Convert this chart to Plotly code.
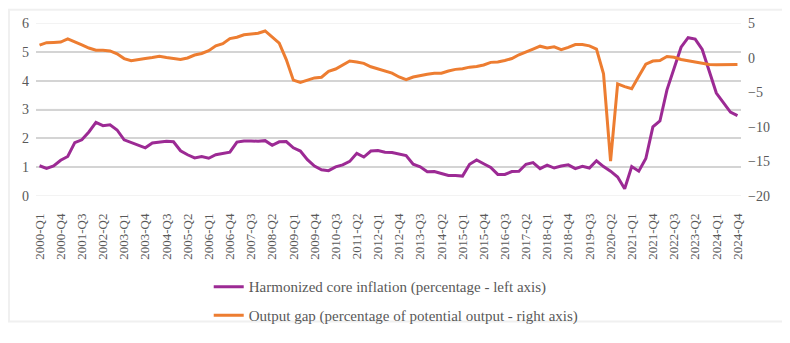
import plotly.graph_objects as go

# quarters 2000-Q1 .. 2024-Q4
quarters = [f"{y}-Q{q}" for y in range(2000, 2025) for q in range(1, 5)]
tick_labels = quarters[::3]
left_ticks = [0, 1, 2, 3, 4, 5, 6]
right_ticks = [-20, -15, -10, -5, 0, 5]

# harmonized core inflation, % (left axis)
core_inflation = [
    1.05, 0.96, 1.04, 1.24, 1.37, 1.85, 1.95, 2.22, 2.55, 2.44,
    2.47, 2.29, 1.95, 1.85, 1.75, 1.67, 1.84, 1.86, 1.90, 1.88,
    1.57, 1.43, 1.32, 1.37, 1.31, 1.43, 1.47, 1.52, 1.87, 1.91,
    1.91, 1.90, 1.92, 1.76, 1.88, 1.89, 1.67, 1.56, 1.26, 1.04,
    0.91, 0.88, 1.01, 1.08, 1.20, 1.48, 1.35, 1.56, 1.58, 1.52,
    1.51, 1.46, 1.40, 1.10, 1.01, 0.84, 0.85, 0.78, 0.71, 0.71,
    0.69, 1.10, 1.25, 1.12, 0.99, 0.75, 0.75, 0.85, 0.86, 1.10,
    1.16, 0.95, 1.07, 0.97, 1.04, 1.08, 0.95, 1.03, 0.97, 1.22,
    1.02, 0.86, 0.66, 0.25, 1.02, 0.86, 1.30, 2.40, 2.60, 3.68,
    4.45, 5.16, 5.49, 5.44, 5.08, 4.34, 3.57, 3.24, 2.91, 2.79,
]

# output gap, % of potential output (right axis)
output_gap = [
    1.80, 2.16, 2.20, 2.25, 2.70, 2.30, 1.83, 1.38, 1.06, 1.06,
    0.96, 0.55, -0.14, -0.46, -0.35, -0.14, 0.00, 0.18, 0.00, -0.14,
    -0.28, -0.05, 0.37, 0.60, 1.00, 1.70, 2.00, 2.75, 2.94, 3.30,
    3.40, 3.53, 3.85, 3.03, 2.10, -0.28, -3.26, -3.60, -3.26, -2.94,
    -2.84, -2.00, -1.65, -1.10, -0.50, -0.64, -0.83, -1.33, -1.65, -2.00,
    -2.25, -2.80, -3.20, -2.80, -2.57, -2.40, -2.25, -2.25, -1.93, -1.70,
    -1.60, -1.38, -1.28, -1.06, -0.69, -0.64, -0.41, -0.14, 0.41, 0.87,
    1.24, 1.65, 1.38, 1.56, 1.15, 1.47, 1.88, 1.88, 1.70, 1.24,
    -2.34, -14.95, -3.80, -4.20, -4.50, -2.70, -0.96, -0.50, -0.43, 0.15,
    0.05, -0.28, -0.48, -0.70, -0.90, -1.00, -1.05, -1.05, -1.05, -0.98,
]

serif = "Liberation Serif, Times New Roman, serif"
grey = "#595959"

fig = go.Figure()
fig.add_trace(go.Scatter(
    x=quarters, y=core_inflation, mode="lines",
    name="Harmonized core inflation (percentage - left axis)",
    line=dict(color="#9C2A94", width=3), legendgroup="a",
))
fig.add_trace(go.Scatter(
    x=quarters, y=output_gap, mode="lines", yaxis="y2",
    name="Output gap (percentage of potential output - right axis)",
    line=dict(color="#ED7D31", width=3), legendgroup="b",
))

# horizontal gridlines at the left-axis ticks (axis grid didn't show up)
for v in left_ticks:
    fig.add_shape(type="line", xref="paper", yref="y", x0=0, x1=1, y0=v, y1=v,
                  line=dict(color="#cccccc", width=1.5), layer="below")

# outer frame
fig.add_shape(type="rect", xref="paper", yref="paper",
              x0=-27 / 705, x1=749 / 705, y0=-132 / 182, y1=196 / 182,
              line=dict(color="#d0d0d0", width=2),
              fillcolor="rgba(0,0,0,0)", layer="below")

# page body has an 8px margin, so the figure is sized 8px smaller
fig.update_layout(
    template="simple_white",
    width=782, height=335,
    margin=dict(l=28, r=49, t=15, b=138),
    paper_bgcolor="white", plot_bgcolor="rgba(0,0,0,0)",
    font=dict(family=serif, size=14, color=grey),
    legend=dict(x=0.245, y=-0.43, xanchor="left", yanchor="top",
                tracegroupgap=6, bgcolor="rgba(0,0,0,0)",
                font=dict(family=serif, size=15, color=grey)),
    xaxis=dict(type="category", range=[-0.5, 99.5], tickvals=tick_labels,
               tickangle=-90, showgrid=False, zeroline=False, showline=False,
               ticks="", ticklabelstandoff=14, automargin=False,
               tickfont=dict(family=serif, size=13, color=grey)),
    yaxis=dict(range=[0, 6], tickvals=left_ticks, showgrid=True,
               gridcolor="#d4d4d4", gridwidth=2, zeroline=False, showline=False,
               ticks="", ticklabelstandoff=6, automargin=False,
               tickfont=dict(family=serif, size=14, color=grey)),
    yaxis2=dict(range=[-20, 5], tickvals=right_ticks, overlaying="y",
                side="right", showgrid=False, zeroline=False, showline=False,
                ticks="", ticklabelstandoff=6, automargin=False,
                tickfont=dict(family=serif, size=14, color=grey)),
)

fig.write_html("out.html")
